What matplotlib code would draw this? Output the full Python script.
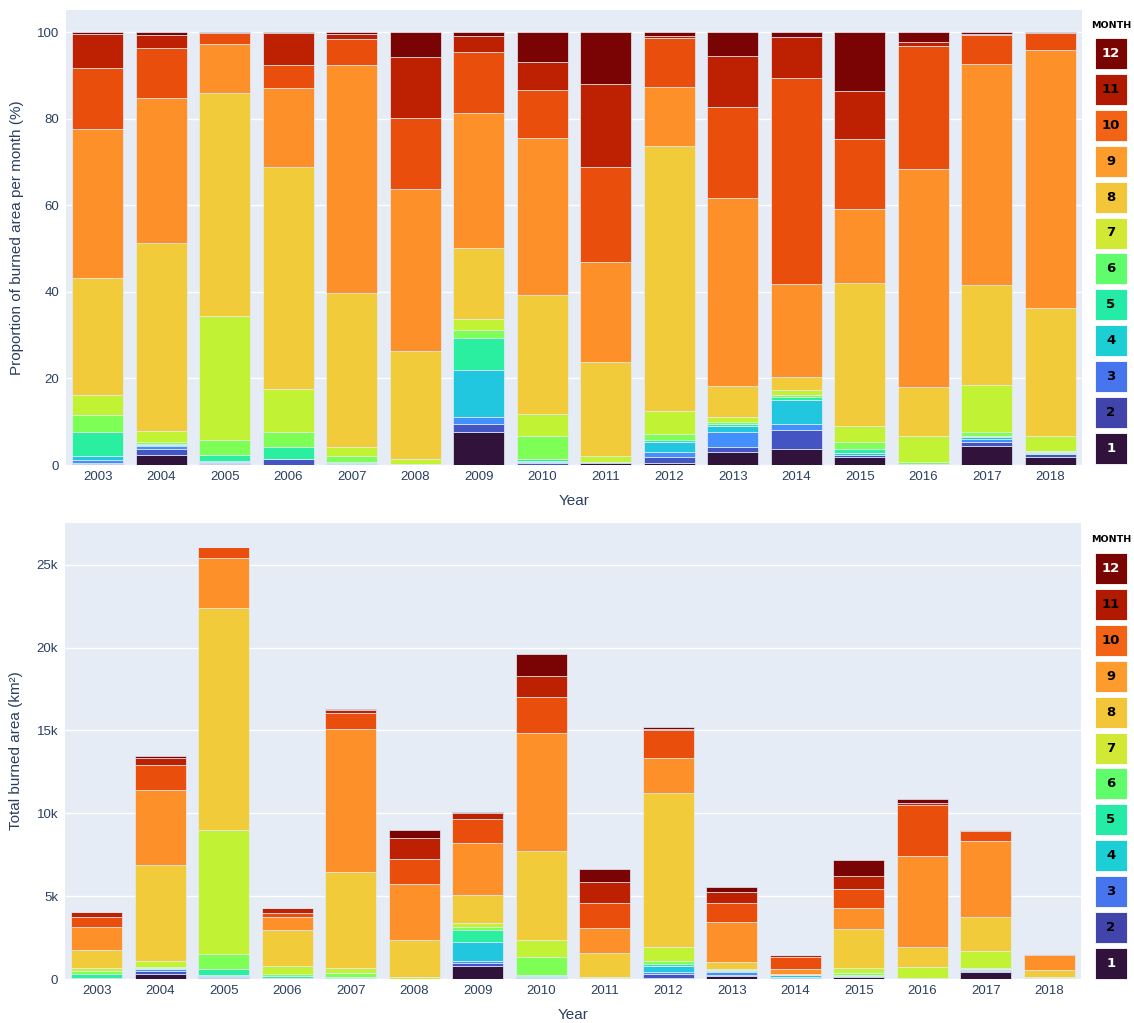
import numpy as np
import matplotlib.pyplot as plt
from matplotlib.patches import Rectangle

plt.rcParams['font.family'] = ['Liberation Sans', 'DejaVu Sans']

years = [2003, 2004, 2005, 2006, 2007, 2008, 2009, 2010,
         2011, 2012, 2013, 2014, 2015, 2016, 2017, 2018]

# share of yearly burned area per month (%), one list per month
m1 = [0.2, 2.4, 0.2, 0.1, 0.05, 0.0, 7.7, 0.1, 0.5, 0.4, 2.9, 3.6, 1.9, 0.0, 4.5, 1.9]
m2 = [0.2, 1.4, 0.3, 1.2, 0.05, 0.05, 1.8, 0.3, 0.1, 1.5, 1.3, 4.5, 0.3, 0.05, 0.7, 0.6]
m3 = [0.8, 0.6, 0.2, 0.05, 0.1, 0.05, 1.5, 0.3, 0.05, 1.0, 3.4, 1.4, 0.1, 0.05, 0.7, 0.1]
m4 = [0.9, 0.3, 0.3, 0.05, 0.3, 0.05, 11.0, 0.3, 0.05, 2.3, 1.5, 5.5, 0.4, 0.1, 0.5, 0.15]
m5 = [5.6, 0.2, 1.3, 2.8, 0.3, 0.1, 7.3, 0.3, 0.05, 0.6, 0.4, 0.6, 0.9, 0.1, 0.3, 0.15]
m6 = [3.9, 0.3, 3.5, 3.4, 1.3, 0.05, 1.9, 5.5, 0.05, 1.3, 0.5, 0.6, 1.6, 0.3, 1.0, 0.3]
m7 = [4.6, 2.7, 28.6, 10.0, 2.0, 1.0, 2.5, 5.1, 1.2, 5.4, 1.0, 1.1, 3.8, 6.1, 10.8, 3.5]
m8 = [26.9, 43.5, 51.5, 51.2, 35.6, 25.0, 16.4, 27.5, 21.7, 61.2, 7.3, 3.1, 33.1, 11.3, 23.1, 29.5]
m9 = [34.6, 33.3, 11.4, 18.3, 52.7, 37.4, 31.2, 36.1, 23.1, 13.7, 43.3, 21.4, 17.1, 50.3, 51.0, 59.7]
m10 = [14.0, 11.6, 2.5, 5.3, 6.0, 16.4, 14.1, 11.2, 22.0, 11.3, 21.2, 47.6, 16.1, 28.5, 6.7, 3.9]
m11 = [7.8, 3.1, 0.15, 7.5, 1.1, 14.1, 3.8, 6.4, 19.2, 0.5, 11.7, 9.6, 11.1, 1.0, 0.4, 0.1]
m12 = [0.5, 0.6, 0.05, 0.1, 0.5, 5.8, 0.8, 6.9, 12.0, 0.8, 5.5, 1.0, 13.6, 2.2, 0.3, 0.1]

# total burned area per year (km2)
totals = [4060, 13440, 26100, 4290, 16300, 9010, 10100, 19640,
          6640, 15230, 5570, 1470, 7200, 10870, 9010, 1510]

months = [1, 2, 3, 4, 5, 6, 7, 8, 9, 10, 11, 12]
month_pct = [m1, m2, m3, m4, m5, m6, m7, m8, m9, m10, m11, m12]

# legend swatches (sampled from the figure's legend)
legend_cols = ["#30123b", "#4145ab", "#4675ed", "#1bcfd4", "#24eca6", "#61fc6c",
               "#d1e834", "#f3c63a", "#fe9b2d", "#f36315", "#b11901", "#7a0402"]

bg = "#E5ECF6"
fc = "#2a3f5f"
cols = [plt.cm.turbo((m - 1) / 11) for m in months]

W, H = 1134, 1023
fig = plt.figure(figsize=(W / 100, H / 100), dpi=100)


def fx(px):
    return px / W


def fy(py):
    return 1 - py / H


ax1 = fig.add_axes([fx(66), fy(465), fx(1082 - 66), (465 - 10) / H])
ax2 = fig.add_axes([fx(65), fy(979), fx(1081 - 65), (979 - 523) / H])

x = np.arange(len(years))
tot = np.array(totals, dtype=float)

b1 = np.zeros(len(years))
b2 = np.zeros(len(years))
for m, pct, c in zip(months, month_pct, cols):
    p = np.array(pct)
    ax1.bar(x, p, 0.8, bottom=b1, color=c, edgecolor=bg, linewidth=0.5, zorder=3)
    v = p / 100 * tot
    ax2.bar(x, v, 0.8, bottom=b2, color=c, edgecolor=bg, linewidth=0.5, zorder=3)
    b1 += p
    b2 += v

for ax in (ax1, ax2):
    ax.set_facecolor(bg)
    for s in ax.spines.values():
        s.set_visible(False)
    ax.set_xlim(-0.5, len(years) - 0.5)
    ax.set_xticks(x)
    ax.set_xticklabels([str(y) for y in years])
    ax.tick_params(length=0, labelsize=9.5, colors=fc)
    ax.tick_params(axis='x', pad=4)
    ax.tick_params(axis='y', pad=5)
    ax.grid(axis='y', color='white', linewidth=1.0, zorder=0)
    ax.set_axisbelow(True)
    ax.set_xlabel("Year", fontsize=11, color=fc)
    ax.xaxis.set_label_coords(0.5, -0.063)

ax1.set_ylim(0, 105.15)
ax1.set_yticks([0, 20, 40, 60, 80, 100])
ax1.set_ylabel("Proportion of burned area per month (%)", fontsize=11, color=fc)
ax1.yaxis.set_label_coords(-0.041, 0.5)

ax2.set_ylim(0, 27520)
ax2.set_yticks([0, 5000, 10000, 15000, 20000, 25000])
ax2.set_yticklabels(["0", "5k", "10k", "15k", "20k", "25k"])
ax2.set_ylabel("Total burned area (km²)", fontsize=11, color=fc)
ax2.yaxis.set_label_coords(-0.041, 0.5)


def legend(top_title, top_item):
    fig.text(fx(1111), fy(top_title), "MONTH", ha='center', va='center',
             fontsize=6.8, fontweight='bold', family='DejaVu Sans', color='black')
    for i, m in enumerate(months[::-1]):
        y0 = top_item + i * 35.9
        c = legend_cols[m - 1]
        fig.add_artist(Rectangle((fx(1095), fy(y0 + 31)), fx(32), 31 / H,
                                 transform=fig.transFigure, facecolor=c,
                                 edgecolor='white', linewidth=0.6))
        tc = 'white' if m in (1, 12) else 'black'
        fig.text(fx(1111), fy(y0 + 15.5), str(m), ha='center', va='center',
                 fontsize=9.5, fontweight='bold', family='DejaVu Sans', color=tc)


legend(25, 38)
legend(540, 553)

fig.savefig("out.png", dpi=100)
